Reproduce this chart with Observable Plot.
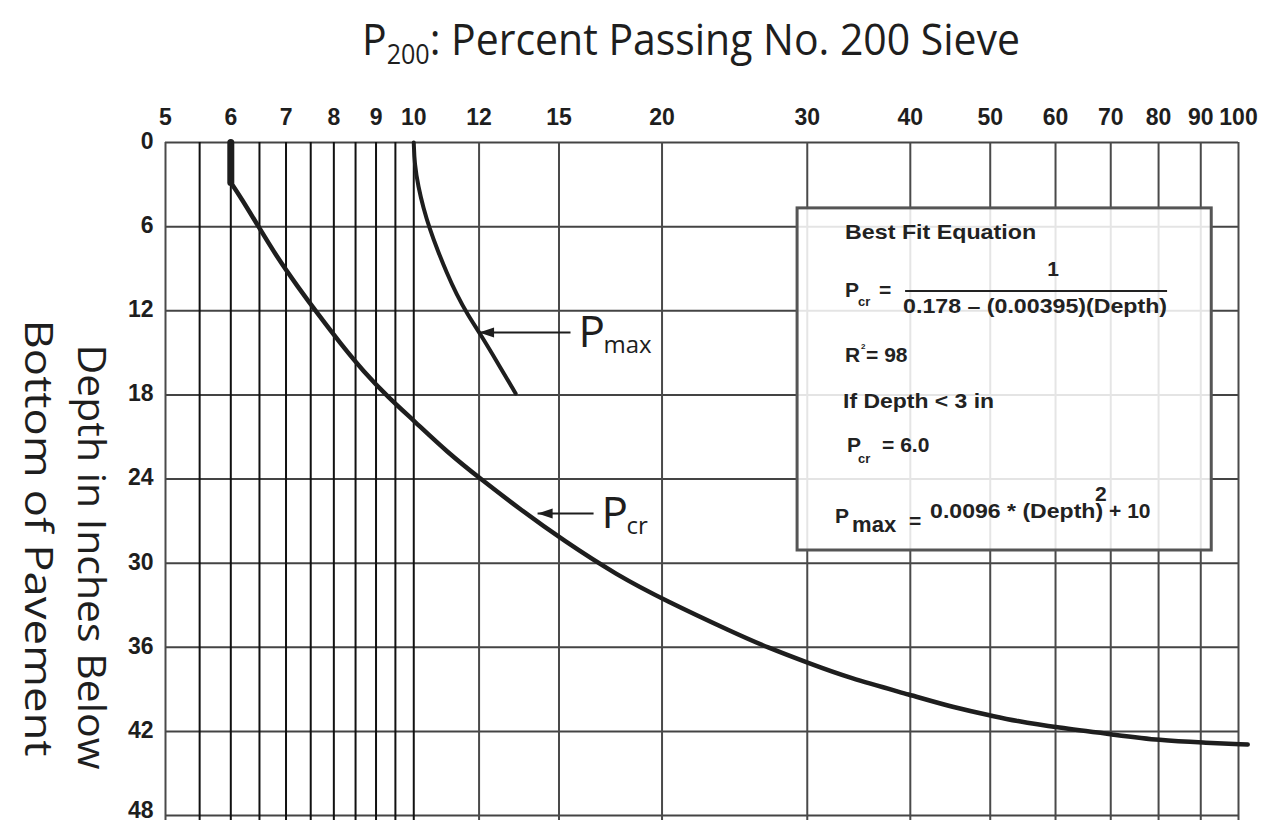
<!DOCTYPE html>
<html><head><meta charset="utf-8">
<script src="https://cdn.jsdelivr.net/npm/d3@7"></script>
<script src="https://cdn.jsdelivr.net/npm/@observablehq/plot@0.6"></script>
<style>
body{margin:0;background:#fff;}
#chart{width:1279px;height:824px;overflow:hidden;}
</style></head><body><div id="chart"></div>
<script>
// ---- data ----
const xTicks = [5, 6, 7, 8, 9, 10, 12, 15, 20, 30, 40, 50, 60, 70, 80, 90, 100];
const xGridFine = [5.5, 6, 6.5, 7, 7.5, 8, 8.5, 9, 9.5, 10];
const xGridCoarse = [5, 12, 15, 20, 30, 40, 50, 60, 70, 80, 90, 100];
const yTicks = [0, 6, 12, 18, 24, 30, 36, 42, 48];

const pcrTopPercent = [6, 6];
const pcrTopDepth = [0, 2.85];
const pcrPercent = [6, 6.17, 6.46, 6.83, 7.23, 7.66, 8.15, 8.69, 9.32, 10, 10.99, 12.08, 13.47, 15.19, 17.66, 20.19, 24.42, 26.85, 30.2, 33.57, 40.25, 45.13, 50.7, 53.4, 60.3, 70.6, 80.4, 90.4, 102.6];
const pcrDepth   = [2.85, 3.92, 5.85, 8.2, 10.27, 12.27, 14.34, 16.33, 18.19, 19.83, 22.11, 24.04, 26.18, 28.39, 30.88, 32.67, 34.95, 36.02, 37.16, 38.16, 39.44, 40.3, 40.94, 41.23, 41.73, 42.23, 42.65, 42.8, 42.94];

const pmaxPercent = [10, 10.02, 10.13, 10.27, 10.45, 10.69, 10.96, 11.27, 11.62, 12.05, 12.63, 13.29];
const pmaxDepth   = [0, 1.5, 3.2, 4.64, 6.13, 7.7, 9.27, 10.84, 12.27, 13.69, 15.69, 17.9];

const labelSubs = ["max", "cr"];
const arrowTail = [15.49, 16.52];
const arrowTip = [12.0, 14.13];
const arrowDepth = [13.55, 26.46];

const boxPercent = [29.2, 92.8];
const boxDepth = [4.7, 29.1];

// ---- build ----
const zip = (xs, ys) => xs.map((x, i) => ({x, y: ys[i]}));
const pcrTop = zip(pcrTopPercent, pcrTopDepth);
const pcr = zip(pcrPercent, pcrDepth);
const pmax = zip(pmaxPercent, pmaxDepth);
const arrows = labelSubs.map((s, i) => ({s, tail: arrowTail[i], tip: arrowTip[i], d: arrowDepth[i]}));
const yTicksInner = yTicks.slice(0, -1);
const yTickLast = yTicks.slice(-1);

const arrowHead = {
  draw(ctx, size) {
    const r = Math.sqrt(size / Math.PI);
    ctx.moveTo(0, 0);
    ctx.lineTo(3 * r, -r);
    ctx.lineTo(3 * r, r);
    ctx.closePath();
  }
};

const ink = "#1e1e1e";
const tickFont = {fontSize: 23, fontWeight: "bold", fontFamily: "Liberation Sans, Arial, sans-serif", fill: ink};
const chart = Plot.plot({
  width: 1279,
  height: 824,
  marginLeft: 165,
  marginRight: 41,
  marginTop: 142,
  marginBottom: 9,
  x: {type: "log", domain: [5, 100], axis: null},
  y: {domain: [0, 48], reverse: true, axis: null},
  style: {background: "white"},
  marks: [
    Plot.ruleY(yTicks, {x1: 5, x2: 100, stroke: "#444", strokeWidth: 2}),
    Plot.ruleX(xGridCoarse, {y1: 0, y2: 48.35, stroke: "#4a4a4a", strokeWidth: 2}),
    Plot.ruleX(xGridFine, {y1: 0, y2: 48.35, stroke: "#111", strokeWidth: 2}),
    Plot.text(xTicks, {x: d => d, y: () => 0, dy: -18, lineAnchor: "bottom", text: d => String(d), ...tickFont}),
    Plot.text(yTicksInner, {x: () => 5, y: d => d, dx: -12, dy: -1, textAnchor: "end", text: d => String(d), ...tickFont}),
    Plot.text(yTickLast, {x: () => 5, y: d => d, dx: -12, dy: -5, textAnchor: "end", text: d => String(d), ...tickFont}),
    Plot.line(pcrTop, {x: "x", y: "y", stroke: ink, strokeWidth: 7}),
    Plot.line(pcr, {x: "x", y: "y", stroke: ink, strokeWidth: 4.5, curve: "basis"}),
    Plot.line(pmax, {x: "x", y: "y", stroke: ink, strokeWidth: 4, curve: "basis"}),
    Plot.link(arrows, {x1: "tail", x2: "tip", y1: "d", y2: "d", stroke: ink, strokeWidth: 2}),
    Plot.dot(arrows, {x: "tip", y: "d", r: 5, symbol: arrowHead, fill: ink, stroke: "none"}),
    Plot.text(arrows, {x: "tail", y: "d", text: () => "P", textAnchor: "start", lineAnchor: "bottom",
      dx: 8, dy: 15, fontSize: 44, fontFamily: "Open Sans, sans-serif", fill: ink}),
    Plot.text(arrows, {x: "tail", y: "d", text: "s", textAnchor: "start", lineAnchor: "bottom",
      dx: 33, dy: 21, fontSize: 24, fontFamily: "Open Sans, sans-serif", fill: ink}),
    Plot.rect([0], {x1: () => boxPercent[0], x2: () => boxPercent[1], y1: () => boxDepth[0], y2: () => boxDepth[1],
      fill: "white", fillOpacity: 0.86, stroke: "#555", strokeWidth: 3})
  ]
});
document.getElementById("chart").appendChild(chart);

const svg = d3.select(chart);
// Title
const title = svg.append("text")
  .attr("x", 362).attr("y", 55).attr("text-anchor", "start")
  .attr("font-family", "Open Sans, sans-serif").attr("font-size", 44).attr("fill", ink)
  .attr("textLength", 658).attr("lengthAdjust", "spacingAndGlyphs");
title.append("tspan").text("P");
title.append("tspan").attr("font-size", 27).attr("dy", 9).text("200");
title.append("tspan").attr("dy", -9).text(": Percent Passing No. 200 Sieve");

// Y axis title (two lines, rotated)
[["Depth in Inches Below", 78, 557, 425], ["Bottom of Pavement", 25, 538, 437]].forEach(([t, x, y, len]) => {
  svg.append("text")
    .attr("transform", `translate(${x},${y}) rotate(90)`)
    .attr("text-anchor", "middle")
    .attr("font-family", "Open Sans, sans-serif").attr("font-size", 38).attr("fill", ink)
    .attr("textLength", len).attr("lengthAdjust", "spacingAndGlyphs")
    .text(t);
});

// Equation box content
const sx = chart.scale("x"), sy = chart.scale("y");
const bx = sx.apply(boxPercent[0]), by = sy.apply(boxDepth[0]);
const g = svg.append("g").attr("transform", `translate(${bx},${by})`).attr("text-anchor", "start")
  .attr("font-family", "Liberation Sans, Arial, sans-serif").attr("font-weight", "bold").attr("fill", "#222");
const T = (x, y, s, fs = 21, extra = {}) => {
  const t = g.append("text").attr("x", x).attr("y", y).attr("font-size", fs).attr("text-anchor", "start").text(s);
  Object.entries(extra).forEach(([k, v]) => t.attr(k, v));
  return t;
};
T(48, 31, "Best Fit Equation", 21, {textLength: 191, lengthAdjust: "spacingAndGlyphs"});
T(48, 89, "P", 21);
T(61, 98, "cr", 13);
T(82, 89, "=", 21);
T(256, 68, "1", 21, {"text-anchor": "middle"});
g.append("line").attr("x1", 108).attr("x2", 370).attr("y1", 83).attr("y2", 83).attr("stroke", "#222").attr("stroke-width", 2);
T(106, 105, "0.178 \u2013 (0.00395)(Depth)", 21, {textLength: 264, lengthAdjust: "spacingAndGlyphs"});
T(48, 154, "R", 21);
T(64, 141, "2", 8);
T(69, 154, "= 98", 21);
T(46, 200, "If Depth < 3 in", 21, {textLength: 151, lengthAdjust: "spacingAndGlyphs"});
T(50, 244, "P", 21);
T(61, 255, "cr", 13);
T(85, 244, "= 6.0", 21);
T(38, 315, "P", 21);
T(55, 324, "max", 22);
T(112, 320, "=", 21);
T(133, 310, "0.0096 * (Depth)", 21, {textLength: 173, lengthAdjust: "spacingAndGlyphs"});
T(298, 293, "2", 21);
T(312, 310, "+ 10", 21);
</script>
</body></html>
